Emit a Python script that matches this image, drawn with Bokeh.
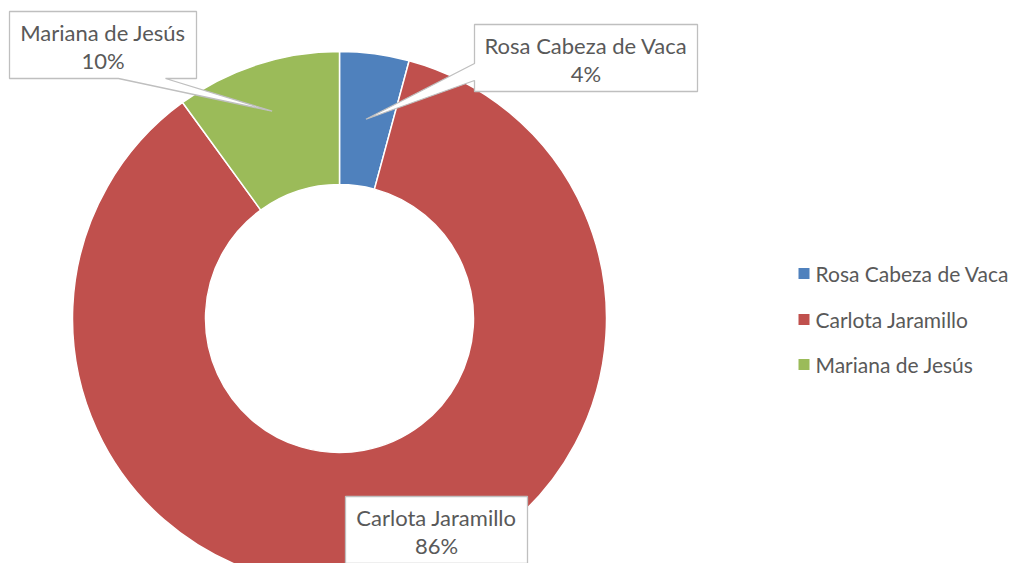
import math
from bokeh.plotting import figure
from bokeh.models import Range1d, ColumnDataSource
from bokeh.core.properties import value
from bokeh.embed import file_html
from bokeh.resources import INLINE

categories = ["Rosa Cabeza de Vaca", "Carlota Jaramillo", "Mariana de Jesús"]
shares = [4.2, 85.8, 10.0]
colors = ["#4F81BD", "#C0504D", "#9BBB59"]

FONT = "Lato"
FS = "22px"
LEG_FS = "21px"
TXT = "#595959"
BORDER = "#BFBFBF"

W, H = 1011, 563
PAGE_H = 579


def Y(py):
    return PAGE_H - py


p = figure(width=W, height=H, x_range=Range1d(0, W), y_range=Range1d(PAGE_H - H, PAGE_H),
           output_backend="svg", toolbar_location=None, min_border=0,
           x_axis_location=None, y_axis_location=None)
p.grid.visible = False
p.outline_line_color = None
p.background_fill_color = "white"

cx, cy = 339, Y(318)
R_OUT, R_IN = 267, 134

total = sum(shares)
starts, ends, mids = [], [], []
acc = 0.0
for s in shares:
    a0 = acc / total * 2 * math.pi
    acc += s
    a1 = acc / total * 2 * math.pi
    starts.append(math.pi / 2 - a0)
    ends.append(math.pi / 2 - a1)
    mids.append(math.pi / 2 - (a0 + a1) / 2)

src = ColumnDataSource(dict(start=starts, end=ends, color=colors))
p.annular_wedge(x=cx, y=cy, inner_radius=R_IN, outer_radius=R_OUT,
                start_angle="start", end_angle="end", direction="clock",
                fill_color="color", line_color="white", line_width=1.5, source=src)

labels = [f"{c}\n{round(s / total * 100)}%" for c, s in zip(categories, shares)]

# callout boxes (page coords: left, top, right, bottom), pointer base side
boxes = [
    dict(box=(474, 24, 697, 91), ptr=("left", 63, 80), r=201),
    dict(box=(345, 496, 527, 563), ptr=None, r=None),
    dict(box=(9, 11, 196, 78), ptr=("bottom", 118, 165), r=218),
]

for i, b in enumerate(boxes):
    l, t, r, btm = b["box"]
    if b["ptr"] is not None:
        tipx = cx + b["r"] * math.cos(mids[i])
        tipy_d = cy + b["r"] * math.sin(mids[i])
        side, a, c = b["ptr"]
        if side == "left":
            pts = [(l, t), (r, t), (r, btm), (l, btm), (l, c), ("tip",), (l, a)]
        else:
            pts = [(l, t), (r, t), (r, btm), (c, btm), ("tip",), (a, btm), (l, btm)]
        px, py = [], []
        for pt in pts:
            if pt[0] == "tip":
                px.append(tipx)
                py.append(tipy_d)
            else:
                px.append(pt[0])
                py.append(Y(pt[1]))
    else:
        px = [l, r, r, l]
        py = [Y(t), Y(t), Y(btm), Y(btm)]
    p.patch(px, py, fill_color="white", line_color=BORDER, line_width=1.3)
    tx = (l + r) / 2
    lines = labels[i].split("\n")
    p.text(x=[tx, tx], y=[Y(t + 21), Y(t + 49)], text=lines,
           text_font=value(FONT), text_font_size=FS, text_color=TXT,
           text_align="center", text_baseline="middle")

# legend
leg_y = [273, 319, 364]
p.rect(x=[803.5] * 3, y=[Y(v) for v in leg_y], width=11, height=11,
       fill_color=colors, line_color=None)
p.text(x=[815] * 3, y=[Y(v) for v in leg_y], text=categories,
       text_font=value(FONT), text_font_size=LEG_FS, text_color=TXT,
       text_align="left", text_baseline="middle")

open("out.html", "w").write(file_html(p, INLINE))
